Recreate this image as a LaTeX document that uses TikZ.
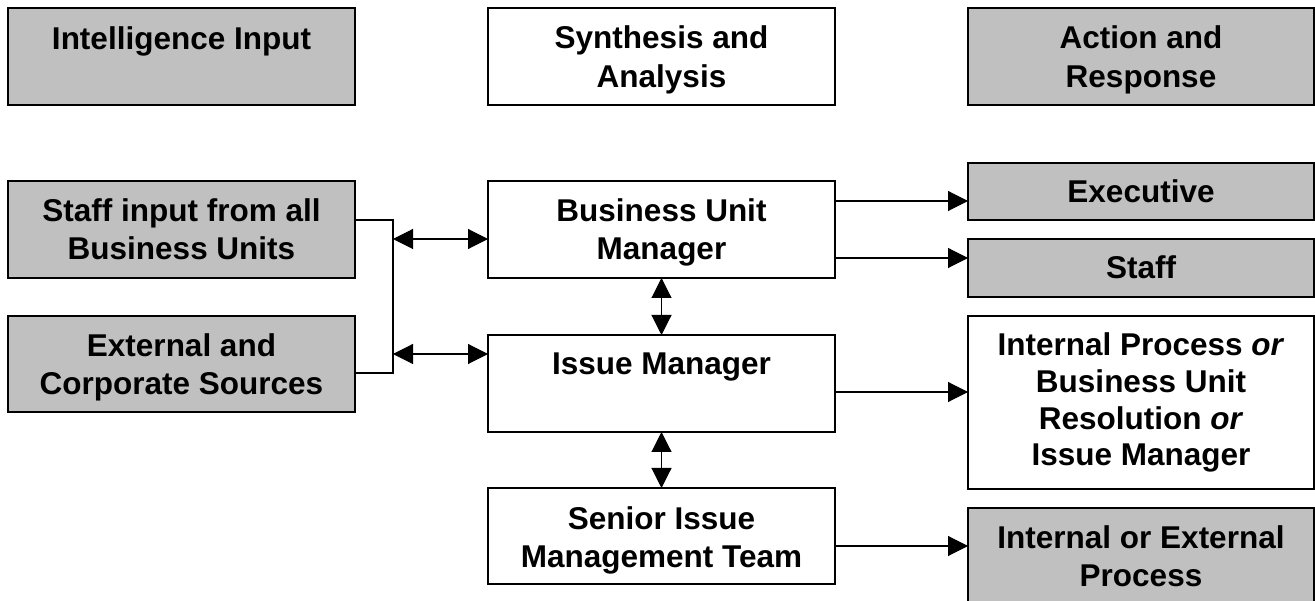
\documentclass[tikz,border=0pt]{standalone}
\usepackage{fontspec}
\setmainfont{Liberation Sans}
\usetikzlibrary{arrows.meta}
\definecolor{boxgray}{HTML}{C0C0C0}
\begin{document}
\begin{tikzpicture}[x=1pt,y=-1pt,
  box/.style={draw=black, line width=1.3pt, fill=white, minimum width=347pt, inner sep=0pt, outer sep=0pt},
  gbox/.style={box, fill=boxgray},
  txt/.style={font=\fontsize{31.5}{38}\selectfont\bfseries, align=center, inner sep=0pt, anchor=base},
  conn/.style={draw=black, line width=1.1pt},
  arr/.style={conn, -{Triangle[length=20pt,width=20pt]}},
  darr/.style={conn, {Triangle[length=20pt,width=20pt]}-{Triangle[length=20pt,width=20pt]}}
]
\useasboundingbox (0,0) rectangle (1315,601);
% column headers
\node[gbox, minimum height=97pt] (intel) at (181.5,56.5) {};
\node[box,  minimum height=97pt] (synth) at (661.5,56.5) {};
\node[gbox, minimum height=97pt, minimum width=346pt] (action) at (1141,56.5) {};
% left column
\node[gbox, minimum height=97pt] (staffin) at (181.5,229.5) {};
\node[gbox, minimum height=96pt] (extsrc) at (181.5,364) {};
% middle column
\node[box, minimum height=97pt] (bum) at (661.5,229.5) {};
\node[box, minimum height=97pt] (im) at (661.5,383.5) {};
\node[box, minimum height=96pt] (simt) at (661.5,536) {};
% right column
\node[gbox, minimum height=57pt, minimum width=346pt] (exec) at (1141,191.5) {};
\node[gbox, minimum height=58pt, minimum width=346pt] (staffout) at (1141,268) {};
\node[box,  minimum height=173pt, minimum width=346pt] (intproc) at (1141,402.5) {};
\node[gbox, minimum height=94pt, minimum width=346pt] (intext) at (1141,555) {};
% texts (base anchor = baseline of the last line)
\node[txt] at ([yshift=-42pt]intel.north) {Intelligence Input};
\node[txt, font=\fontsize{31.5}{39.5}\selectfont\bfseries] at ([yshift=-80pt]synth.north) {Synthesis and\\Analysis};
\node[txt, font=\fontsize{31.5}{39.5}\selectfont\bfseries] at ([yshift=-80pt]action.north) {Action and\\Response};
\node[txt] at ([yshift=-79pt]staffin.north) {Staff input from all\\Business Units};
\node[txt] at ([yshift=-79pt]extsrc.north) {External and\\Corporate Sources};
\node[txt] at ([yshift=-79pt]bum.north) {Business Unit\\Manager};
\node[txt] at ([yshift=-40pt]im.north) {Issue Manager};
\node[txt] at ([yshift=-79pt]simt.north) {Senior Issue\\Management Team};
\node[txt] at ([yshift=-40pt]exec.north) {Executive};
\node[txt] at ([yshift=-40pt]staffout.north) {Staff};
\node[txt, font=\fontsize{31.5}{36.8}\selectfont\bfseries] at ([yshift=-150pt]intproc.north) {Internal Process \textit{or}\\Business Unit\\Resolution \textit{or}\\Issue Manager};
\node[txt] at ([yshift=-78pt]intext.north) {Internal or External\\Process};
% connectors
\coordinate (bus1) at (393,239);
\coordinate (bus2) at (393,354);
\draw[conn] ([yshift=9.5pt]staffin.east) -| (bus1) -- (bus2) |- ([yshift=-9pt]extsrc.east);
\draw[darr] (bus1) -- (bum.west |- bus1);
\draw[darr] (bus2) -- (im.west |- bus2);
\draw[darr] (bum.south) -- (im.north);
\draw[darr] (im.south) -- (simt.north);
\coordinate (o1) at ([yshift=28.5pt]bum.east);
\coordinate (o2) at ([yshift=-28.5pt]bum.east);
\coordinate (o3) at ([yshift=-8.5pt]im.east);
\coordinate (o4) at ([yshift=-10pt]simt.east);
\draw[arr] (o1) -- (exec.west |- o1);
\draw[arr] (o2) -- (staffout.west |- o2);
\draw[arr] (o3) -- (intproc.west |- o3);
\draw[arr] (o4) -- (intext.west |- o4);
\end{tikzpicture}
\end{document}
